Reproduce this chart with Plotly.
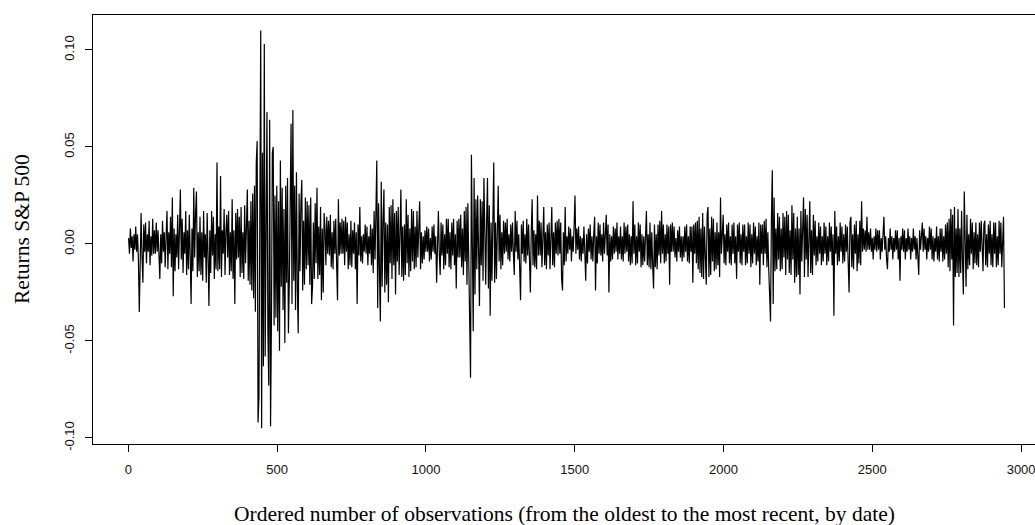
import plotly.graph_objects as go

# Daily returns of the S&P 500 (one value per 3 observations)
obs_step = 3
returns = [
    0.003,-0.005,0.008,-0.002,0.004,-0.009,0.005,-0.003,0.009,-0.004,
    0.005,-0.008,-0.035,0.004,0.016,-0.006,-0.020,0.010,-0.004,0.011,
    -0.010,0.005,-0.004,0.012,-0.011,0.004,-0.006,0.013,-0.005,0.007,
    -0.005,0.011,-0.004,0.007,-0.012,-0.018,0.005,-0.010,0.012,-0.004,
    0.006,-0.012,0.004,0.017,-0.013,0.006,-0.005,0.014,-0.012,0.024,
    -0.027,0.008,-0.014,0.005,-0.007,0.015,-0.013,0.006,0.028,-0.008,
    0.013,-0.015,0.006,-0.005,0.017,-0.016,0.007,-0.013,0.015,-0.006,
    -0.031,0.008,-0.014,0.029,-0.007,0.016,0.027,-0.017,0.006,-0.014,
    0.014,-0.016,0.006,-0.019,0.017,-0.007,0.005,-0.020,0.016,-0.006,
    -0.032,0.007,-0.015,0.017,-0.006,0.014,-0.018,0.005,-0.013,0.042,
    -0.014,0.009,-0.013,0.035,-0.017,0.007,-0.005,0.018,-0.016,0.006,
    0.015,-0.007,0.017,-0.016,0.006,-0.014,0.023,-0.018,0.007,-0.031,
    0.016,-0.008,0.018,-0.007,0.014,-0.017,0.019,-0.015,0.006,-0.018,
    0.020,-0.010,0.015,0.028,-0.019,0.012,-0.021,0.022,-0.024,0.026,
    -0.028,0.030,-0.035,0.042,0.053,-0.092,-0.079,0.040,0.110,-0.095,
    0.047,-0.063,0.103,-0.058,0.045,0.068,-0.045,-0.073,0.064,-0.094,
    -0.040,0.047,0.050,-0.042,0.025,-0.038,0.030,-0.045,0.022,-0.055,
    0.043,-0.022,0.029,-0.034,0.018,-0.051,0.030,-0.020,0.034,-0.046,
    -0.020,0.032,0.062,-0.031,0.069,-0.019,0.030,-0.034,0.037,-0.022,
    -0.046,0.026,-0.014,0.021,0.033,-0.024,0.012,-0.021,0.024,-0.013,
    0.022,-0.011,0.020,-0.021,0.024,-0.031,-0.022,0.011,-0.018,0.021,
    -0.010,0.029,-0.018,0.009,-0.016,0.019,-0.029,0.008,-0.025,0.016,
    0.008,-0.011,0.014,-0.005,0.012,-0.006,0.015,-0.012,0.006,-0.013,
    0.012,-0.005,0.013,-0.011,-0.029,0.023,-0.006,0.011,-0.005,0.013,
    -0.005,0.012,-0.011,0.014,-0.004,0.011,-0.013,0.005,-0.011,0.012,
    -0.012,0.007,-0.005,0.011,-0.013,0.006,-0.031,0.010,-0.006,0.019,
    -0.009,0.004,-0.010,0.005,-0.004,0.010,-0.005,0.009,-0.011,0.004,
    -0.005,0.010,-0.011,0.008,-0.015,0.017,-0.008,0.016,0.043,-0.033,
    0.021,-0.014,-0.040,0.032,-0.022,0.012,0.028,-0.025,0.011,-0.021,
    0.010,-0.030,0.019,-0.010,0.020,-0.018,0.023,-0.011,0.016,-0.026,
    0.017,-0.009,0.019,-0.016,0.008,0.028,-0.017,0.009,-0.019,0.010,
    -0.016,0.023,-0.010,0.015,-0.017,0.008,-0.014,0.018,-0.009,0.017,
    -0.013,0.009,-0.012,0.017,-0.007,0.015,0.022,-0.013,0.006,-0.010,
    0.004,-0.008,0.007,-0.004,0.009,-0.004,0.008,-0.009,0.003,-0.008,
    0.009,-0.004,0.010,-0.005,0.004,-0.020,0.009,0.017,-0.005,-0.016,
    0.011,-0.006,0.010,-0.013,0.005,-0.011,0.013,-0.005,0.013,-0.012,
    0.006,-0.013,0.011,-0.006,0.013,-0.011,0.005,-0.023,0.012,-0.007,
    0.013,-0.007,0.015,-0.012,0.008,-0.016,0.017,-0.009,0.019,-0.021,
    0.021,-0.012,-0.049,-0.069,0.046,-0.030,-0.045,0.034,-0.026,0.023,
    -0.013,0.025,-0.020,-0.032,0.023,-0.011,0.022,-0.019,0.034,-0.012,
    -0.021,0.012,0.034,-0.023,0.020,-0.037,0.011,-0.019,0.023,0.042,
    -0.020,0.011,-0.018,0.017,0.030,-0.009,0.015,-0.013,0.006,-0.011,
    0.012,-0.005,0.011,-0.004,0.013,-0.008,0.005,-0.009,0.010,-0.004,
    0.011,-0.005,-0.016,0.017,-0.004,0.012,-0.008,0.005,-0.009,-0.029,
    0.010,-0.005,0.012,-0.009,0.005,-0.010,0.013,-0.006,0.010,-0.011,
    -0.025,0.006,0.023,-0.011,0.007,-0.012,0.005,-0.013,0.025,-0.006,
    0.012,-0.006,0.011,-0.012,0.005,0.019,-0.011,0.006,-0.013,0.010,
    -0.006,0.011,-0.013,0.005,0.019,-0.011,0.006,-0.012,0.011,-0.005,
    0.012,-0.006,0.013,-0.005,0.011,-0.018,-0.024,0.006,-0.011,0.019,
    -0.009,0.004,-0.005,0.009,-0.003,0.008,-0.009,0.004,-0.004,0.009,
    0.025,-0.005,0.008,-0.003,0.009,-0.008,0.004,-0.009,0.003,-0.005,
    0.009,-0.004,-0.019,0.005,-0.010,0.008,-0.004,0.010,-0.008,0.004,
    -0.009,0.005,0.014,-0.024,0.004,-0.010,0.011,-0.005,0.010,-0.006,
    0.005,-0.009,0.011,-0.005,0.009,0.015,-0.006,0.010,-0.025,0.005,
    -0.009,0.004,-0.008,0.009,-0.005,0.008,-0.004,0.011,-0.008,0.004,
    -0.005,0.009,-0.008,0.004,-0.009,0.011,-0.005,0.009,-0.004,0.010,
    -0.009,0.005,-0.011,0.004,-0.010,0.022,-0.005,0.010,-0.011,0.004,
    -0.010,0.011,-0.004,0.010,-0.012,0.005,-0.011,0.004,-0.009,0.011,
    0.017,-0.011,0.005,-0.012,0.011,-0.013,0.006,-0.011,-0.023,0.010,
    -0.012,0.005,-0.013,0.010,-0.006,0.012,-0.010,0.017,-0.005,0.010,
    -0.010,0.005,-0.009,0.010,-0.005,0.009,-0.021,0.010,-0.004,0.011,
    -0.004,0.009,-0.007,0.003,-0.009,0.007,-0.004,0.009,-0.007,0.004,
    -0.009,0.004,-0.007,0.009,-0.004,0.010,-0.009,0.004,-0.010,0.009,
    -0.004,0.009,-0.020,0.010,-0.005,0.011,-0.010,0.012,-0.013,0.014,
    -0.015,0.008,-0.017,0.016,-0.018,0.009,-0.016,-0.021,0.015,0.019,
    -0.017,0.008,-0.016,0.014,-0.009,0.013,-0.014,0.006,-0.013,0.011,
    -0.011,0.006,-0.017,0.024,-0.005,0.011,0.015,-0.010,0.005,-0.011,
    0.010,-0.004,0.011,-0.010,0.004,-0.011,0.010,-0.005,0.011,-0.010,
    0.004,-0.018,0.010,-0.004,0.011,-0.010,0.005,-0.011,0.010,-0.004,
    0.010,-0.011,0.004,-0.010,0.011,-0.005,0.010,-0.012,0.005,-0.010,
    0.011,-0.005,0.009,-0.011,0.004,-0.009,0.011,-0.021,0.010,-0.005,
    0.010,-0.011,0.012,-0.005,0.013,-0.012,0.006,-0.013,-0.027,-0.040,
    0.013,0.038,-0.031,0.024,-0.014,0.008,-0.013,0.016,-0.008,0.014,
    -0.014,0.008,-0.013,0.016,-0.007,0.014,-0.016,0.017,-0.008,0.015,
    -0.015,0.007,-0.016,0.020,-0.008,0.016,-0.020,0.008,-0.017,0.014,
    -0.016,0.008,-0.026,0.017,-0.009,0.016,0.024,-0.017,0.018,-0.008,
    0.015,-0.017,0.008,0.022,-0.015,0.007,-0.016,0.015,-0.006,0.012,
    -0.011,0.004,-0.009,0.011,-0.005,0.009,-0.011,0.004,-0.009,0.011,
    -0.005,0.009,-0.011,0.004,-0.009,0.011,-0.004,0.009,-0.011,0.005,
    -0.037,0.017,-0.005,0.009,-0.011,0.004,-0.009,0.011,-0.004,0.009,
    -0.010,0.005,-0.009,0.010,-0.004,0.009,-0.010,-0.025,0.011,0.014,
    -0.012,0.005,-0.013,0.010,-0.005,0.012,-0.014,0.005,-0.010,0.012,
    -0.011,0.022,-0.004,0.008,-0.003,0.007,-0.004,0.014,-0.003,0.006,
    -0.003,0.008,-0.004,0.003,-0.008,0.004,-0.003,0.008,-0.004,0.007,
    -0.003,0.007,-0.008,0.003,-0.004,0.008,0.014,-0.003,0.004,-0.008,
    -0.013,0.003,-0.004,0.008,-0.003,0.004,-0.008,0.003,-0.004,0.007,
    -0.003,0.007,-0.008,0.003,-0.019,0.004,-0.003,0.008,-0.004,0.007,
    -0.008,0.003,-0.004,0.008,-0.003,0.004,-0.008,0.003,-0.004,0.008,
    -0.003,0.004,-0.008,0.003,-0.004,-0.016,0.007,-0.003,0.004,0.011,
    -0.004,0.008,-0.003,0.004,-0.008,0.003,-0.004,0.009,-0.003,0.008,
    -0.008,0.004,-0.009,0.003,-0.004,0.009,-0.008,0.004,-0.009,0.008,
    -0.004,0.008,-0.009,0.004,-0.008,0.010,-0.005,0.011,-0.012,0.013,
    -0.014,0.018,-0.008,0.015,-0.042,0.019,-0.017,0.008,-0.015,0.018,
    -0.017,0.008,-0.015,0.017,-0.008,-0.026,0.027,-0.014,-0.022,0.015,
    -0.013,0.005,-0.011,0.013,-0.005,0.011,-0.013,0.006,-0.010,0.011,
    -0.011,0.005,-0.012,0.011,-0.004,0.012,-0.005,-0.014,0.010,0.012,
    -0.011,0.005,-0.012,0.010,-0.005,0.012,-0.011,0.005,-0.012,0.011,
    -0.005,0.011,-0.012,0.004,-0.011,0.012,-0.005,0.011,-0.012,0.005,
    0.014,-0.033,
]
observations = [1 + obs_step * i for i in range(len(returns))]

x_ticks = [0, 500, 1000, 1500, 2000, 2500, 3000]
y_ticks = [-0.10, -0.05, 0.00, 0.05, 0.10]
y_tick_labels = ["-0.10", "-0.05", "0.00", "0.05", "0.10"]

x_title = "Ordered number of observations (from the oldest to the most recent, by date)"
y_title = "Returns S&P 500"

fig = go.Figure()
fig.add_trace(go.Scatter(
    x=observations, y=returns, mode="lines",
    line=dict(color="black", width=1.2),
    showlegend=False, hoverinfo="skip",
))

tick_font = dict(family="Liberation Sans, Arial, sans-serif", size=13, color="#111111")
title_font = dict(family="Liberation Serif, Times New Roman, serif", size=21.5, color="black")

fig.update_layout(
    width=1035, height=525,
    margin=dict(l=93, r=0, t=15, b=81),
    paper_bgcolor="white", plot_bgcolor="white",
    xaxis=dict(
        range=[-118.6, 3046.7], tickvals=x_ticks, ticks="outside", ticklen=7,
        tickcolor="black", tickwidth=1, showline=True, linecolor="black",
        linewidth=1, mirror=True, showgrid=False, zeroline=False,
        tickfont=tick_font, ticklabelstandoff=6, ticklabeloverflow="allow",
    ),
    yaxis=dict(
        range=[-0.1031, 0.1180], tickvals=y_ticks, ticktext=y_tick_labels,
        tickangle=-90, ticks="outside", ticklen=7, tickcolor="black",
        tickwidth=1, showline=True, linecolor="black", linewidth=1,
        showgrid=False, zeroline=False, tickfont=tick_font,
        ticklabelstandoff=6,
    ),
    annotations=[
        dict(text=x_title, xref="paper", yref="paper", x=0.5, y=0,
             xanchor="center", yanchor="middle", yshift=-70,
             showarrow=False, font=title_font),
        dict(text=y_title, xref="paper", yref="paper", x=0, y=0.5,
             xanchor="center", yanchor="middle", xshift=-71.5,
             textangle=-90, showarrow=False, font=title_font),
    ],
)

fig.write_html("out.html", config={"displayModeBar": False},
               post_script="document.body.style.margin='0px';")
